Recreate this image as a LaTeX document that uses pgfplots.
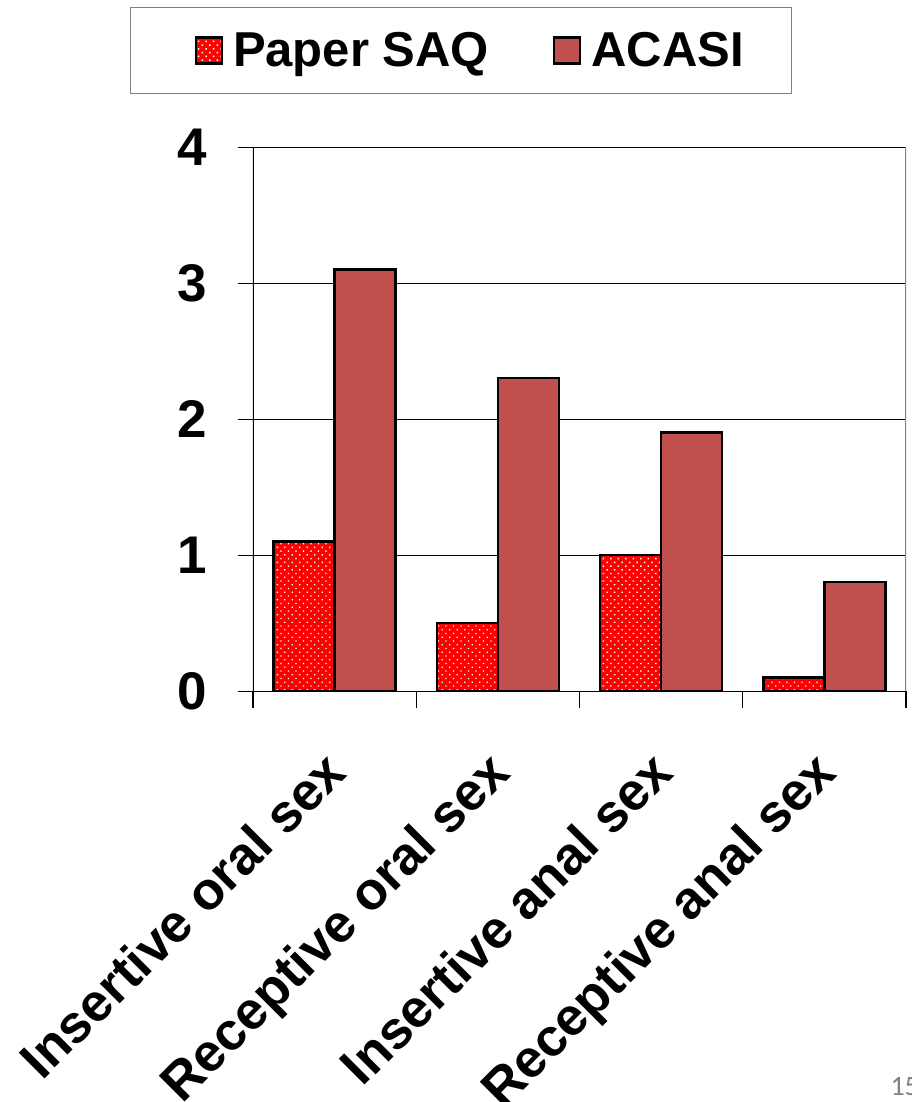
\documentclass[border=0pt]{standalone}
\usepackage{fontspec}
\setmainfont{Liberation Sans}
\newfontfamily\pagefont{Carlito}
\usepackage{pgfplots}
\pgfplotsset{compat=1.18}
\usetikzlibrary{patterns.meta}
\definecolor{acasi}{RGB}{192,80,77}
\begin{document}
\begin{tikzpicture}
\useasboundingbox (-253pt,691pt) rectangle (658pt,-411pt);
\begin{axis}[
  anchor=south west,
  scale only axis, width=653pt, height=544pt,
  ybar=0pt, bar width=61pt,
  xmin=-0.5, xmax=3.5, ymin=0, ymax=4,
  axis line style={draw=none},
  tick pos=left, tick align=outside,
  xtick={0,1,2,3},
  xticklabels={Insertive oral sex, Receptive oral sex, Insertive anal sex, Receptive anal sex},
  xtick style={draw=none},
  extra x ticks={-0.5,0.5,1.5,2.5,3.5}, extra x tick labels={},
  extra x tick style={xtick style={draw=black, line width=1.2pt}, major tick length=17pt},
  ytick={0,1,2,3,4},
  ymajorgrids, grid style={black, line width=1pt},
  ytick style={draw=black, line width=1pt}, major tick length=15pt,
  /pgf/number format/assume math mode=true,
  yticklabel style={font=\fontsize{53}{63}\selectfont\bfseries, xshift=-27pt},
  xticklabel style={font=\fontsize{53}{63}\selectfont\bfseries, xshift=-13pt, yshift=-37pt, rotate=45, anchor=north east},
  legend columns=2,
  legend style={at={(-0.18836,1.2574)}, anchor=north west, draw=gray, line width=1pt,
    font=\fontsize{49}{59}\selectfont\bfseries, inner xsep=46pt, inner ysep=23pt,
    /tikz/every odd column/.append style={column sep=8pt},
    /tikz/every even column/.append style={column sep=44pt}},
  legend image code/.code={\path (-18pt,0pt); \draw[#1, line width=2.5pt] (0pt,-13pt) rectangle (26pt,13pt);},
]
\addplot[draw=black, line width=2.5pt, fill=red,
  postaction={pattern={Dots[radius=0.95pt, distance=5.3pt, angle=45]}, pattern color=white}]
  coordinates {(0,1.1) (1,0.5) (2,1.0) (3,0.1)};
\addplot[draw=black, line width=2.5pt, fill=acasi]
  coordinates {(0,3.1) (1,2.3) (2,1.9) (3,0.8)};
\legend{Paper SAQ, ACASI}
\draw[black, line width=1.5pt] (rel axis cs:0,0) -- (rel axis cs:0,1);
\draw[gray, line width=1.5pt] (rel axis cs:1,0) -- (rel axis cs:1,1);
\end{axis}
\node[anchor=base west, text=gray, font=\pagefont\fontsize{28}{32}\selectfont] at (634pt,-404pt) {15};
\end{tikzpicture}
\end{document}
